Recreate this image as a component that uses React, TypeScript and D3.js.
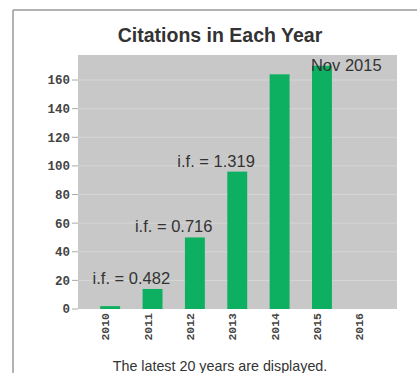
import React from "react";
import * as d3 from "d3";

const years = ["2010", "2011", "2012", "2013", "2014", "2015", "2016"];
const citations = [2, 14, 50, 96, 164, 170, 0];
const yTicks = [0, 20, 40, 60, 80, 100, 120, 140, 160];
const impactLabels = [
  { after: "2010", before: "2011", text: "i.f. = 0.482" },
  { after: "2011", before: "2012", text: "i.f. = 0.716" },
  { after: "2012", before: "2013", text: "i.f. = 1.319" },
];
const noteYear = "2015";
const noteText = "Nov 2015";
const title = "Citations in Each Year";
const footer = "The latest 20 years are displayed.";

const W = 417;
const H = 373;
const plot = { left: 78, right: 397, top: 55, bottom: 309 };

export default function App() {
  const x = d3.scaleBand<string>().domain(years).range([89, 385.5]).padding(0);
  const y = d3.scaleLinear().domain([0, 177.5]).range([plot.bottom, plot.top]);
  const barW = x.bandwidth() * 0.47;
  const cx = (k: string) => (x(k) as number) + x.bandwidth() / 2;
  const val = (k: string) => citations[years.indexOf(k)];
  const sans = "'Liberation Sans', Arial, sans-serif";
  const mono = "'Liberation Mono', 'DejaVu Sans Mono', monospace";

  return (
    <svg
      width={W}
      height={H}
      style={{ position: "absolute", left: 0, top: 0, background: "#fff" }}
    >
      <line x1={13} y1={10} x2={W} y2={10} stroke="#9a9a9a" strokeWidth={1.5} />
      <line x1={13} y1={10} x2={13} y2={H} stroke="#9a9a9a" strokeWidth={1.5} />
      <text x={220} y={42} textAnchor="middle" fontFamily={sans} fontWeight="bold" fontSize={19.5} fill="#333">
        {title}
      </text>
      <rect
        x={plot.left}
        y={plot.top}
        width={plot.right - plot.left}
        height={plot.bottom - plot.top}
        fill="#c8c8c8"
      />
      {yTicks.map((t) => (
        <g key={t}>
          {t > 0 && (
            <line x1={plot.left} x2={plot.right} y1={y(t)} y2={y(t)} stroke="#d6d6d6" strokeWidth={1} />
          )}
          <line x1={72} x2={plot.left} y1={y(t)} y2={y(t)} stroke="#aaa" strokeWidth={1} />
          <text
            x={70}
            y={y(t)}
            dy="0.35em"
            textAnchor="end"
            fontFamily={mono}
            fontWeight="bold"
            fontSize={12.5}
            fill="#444"
          >
            {t}
          </text>
        </g>
      ))}
      {years.map((k, i) => (
        <rect
          key={k}
          x={cx(k) - barW / 2}
          y={y(citations[i])}
          width={barW}
          height={plot.bottom - y(citations[i])}
          fill="#0cb060"
        />
      ))}
      {years.map((k) => (
        <text
          key={k}
          transform={`translate(${cx(k) - 1},${313}) rotate(-90)`}
          textAnchor="end"
          fontFamily={mono}
          fontWeight="bold"
          fontSize={11.5}
          fill="#444"
        >
          {k}
        </text>
      ))}
      {impactLabels.map((a) => (
        <text
          key={a.text}
          x={(cx(a.after) + cx(a.before)) / 2}
          y={y(val(a.before)) - 5}
          textAnchor="middle"
          fontFamily={sans}
          fontSize={16.5}
          fill="#333"
        >
          {a.text}
        </text>
      ))}
      <text
        x={cx(noteYear) - 11}
        y={y(val(noteYear)) + 5}
        textAnchor="start"
        fontFamily={sans}
        fontSize={16.5}
        fill="#333"
      >
        {noteText}
      </text>
      <text x={220} y={371} textAnchor="middle" fontFamily={sans} fontSize={14.3} fill="#333">
        {footer}
      </text>
    </svg>
  );
}
